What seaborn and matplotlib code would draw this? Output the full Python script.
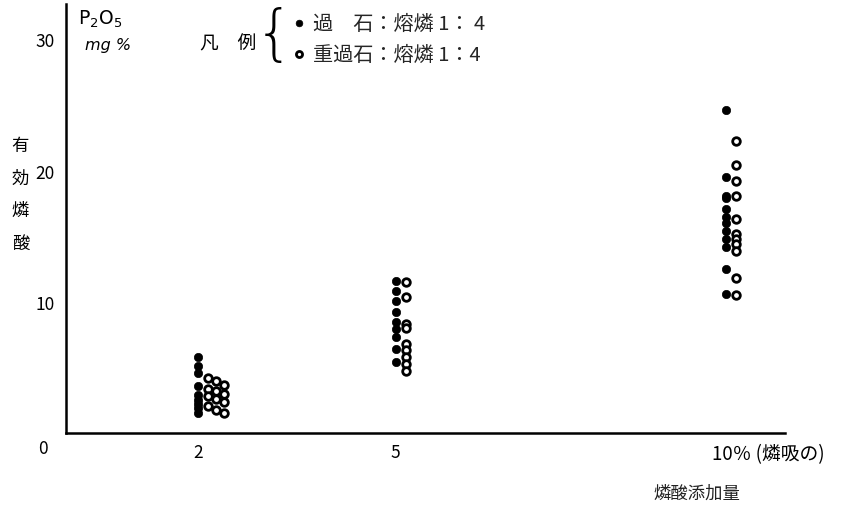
import numpy as np
import pandas as pd
import matplotlib
matplotlib.use("Agg")
import matplotlib.pyplot as plt
import matplotlib.transforms as mtransforms
import seaborn as sns

# ---- data ----
doses = [2, 5, 10]
filled_2 = [5.8, 5.1, 4.6, 3.6, 2.9, 2.5, 2.2, 1.9, 1.5]
open_2 = [4.2, 4.0, 3.7, 3.4, 3.2, 3.0, 2.8, 2.6, 2.4, 2.1, 1.8, 1.5]
filled_5 = [11.6, 10.8, 10.1, 9.2, 8.5, 7.9, 7.3, 6.4, 5.4]
open_5 = [11.5, 10.4, 8.3, 8.0, 6.8, 6.3, 5.8, 5.3, 4.7]
filled_10 = [24.6, 19.5, 18.1, 17.9, 17.1, 16.5, 16.0, 15.4, 14.8, 14.2, 12.5, 10.6]
open_10 = [22.3, 20.4, 19.2, 18.1, 16.3, 15.2, 14.8, 14.4, 13.9, 11.8, 10.5]
series_labels = ["過　石：熔燐 1： 4", "重過石：熔燐 1：4"]
x_ticks = [2, 5, 10]
x_ticklabels = ["2", "5", "10％ (燐吸の)"]
y_ticks = [10, 20, 30]

rows = []
for d, f, o in zip(doses, [filled_2, filled_5, filled_10], [open_2, open_5, open_10]):
    for i, v in enumerate(f):
        rows.append(dict(dose=d, value=v, kind=series_labels[0], idx=i))
    for i, v in enumerate(o):
        rows.append(dict(dose=d, value=v, kind=series_labels[1], idx=i))
df = pd.DataFrame(rows)

# horizontal placement (style only): open circles drawn to the right
base_off = {series_labels[0]: 0.0, series_labels[1]: 0.16}
df["xpos"] = df["dose"] + df["kind"].map(base_off)
mask2 = (df["dose"] == 2) & (df["kind"] == series_labels[1])
df.loc[mask2, "xpos"] += np.where(df.loc[mask2, "idx"] % 3 == 0, 0.0,
                                  np.where(df.loc[mask2, "idx"] % 3 == 1, 0.12, 0.24))

sns.set_theme(style="white")
plt.rcParams["font.family"] = ["Noto Sans CJK JP", "DejaVu Sans"]

fig = plt.figure(figsize=(8.44, 5.06), dpi=100)
ax = fig.add_axes([0.078, 0.142, 0.852, 0.848])

fdf = df[df["kind"] == series_labels[0]]
odf = df[df["kind"] == series_labels[1]]
sns.scatterplot(data=fdf, x="xpos", y="value", ax=ax, marker="o", s=36,
                color="black", edgecolor="black", linewidth=0.5,
                label=series_labels[0])
sns.scatterplot(data=odf, x="xpos", y="value", ax=ax, marker="o", s=30,
                facecolor="white", edgecolor="black", linewidth=2.0,
                label=series_labels[1])

ax.set_xlim(0, 10.9)
ax.set_ylim(0, 32.7)
ax.set_xticks(x_ticks)
ax.set_xticklabels(x_ticklabels)
ax.set_yticks(y_ticks)
ax.set_yticklabels([str(t) for t in y_ticks])
ax.set_xlabel("")
ax.set_ylabel("")

for side in ["top", "right"]:
    ax.spines[side].set_visible(False)
for side in ["left", "bottom"]:
    ax.spines[side].set_color("black")
    ax.spines[side].set_linewidth(1.8)

ax.tick_params(axis="both", direction="in", length=5, width=1.5, colors="black",
               labelsize=12.5, pad=8)
ax.tick_params(axis="x", pad=7)

# last x tick label starts near the tick
lbls = ax.get_xticklabels()
last = lbls[-1]
last.set_horizontalalignment("left")
last.set_fontsize(13.5)
last.set_transform(last.get_transform() +
                   mtransforms.ScaledTranslation(-10 / 72, 0, fig.dpi_scale_trans))

# origin label
ax.text(-0.025, -0.035, "0", transform=ax.transAxes, ha="right", va="center",
        fontsize=12.5, color="black")

# y label (vertical stacked characters)
fig.text(0.024, 0.615, "有\n効\n燐\n酸", ha="center", va="center", fontsize=12.5,
         linespacing=2.05, color="black")

# x label
fig.text(0.826, 0.025, "燐酸添加量", ha="center", va="center", fontsize=12.5,
         color="#222222")

# unit
fig.text(0.092, 0.962, "P$_2$O$_5$", ha="left", va="center", fontsize=13.5,
         family="DejaVu Sans", color="black")
fig.text(0.101, 0.91, "mg %", ha="left", va="center", fontsize=11.5,
         style="italic", family="DejaVu Sans", color="black")

# legend
fig.text(0.237, 0.913, "凡　例", ha="left", va="center", fontsize=13.5, color="black")
fig.text(0.325, 0.928, "{", ha="center", va="center", fontsize=44,
         family="DejaVu Sans", color="black", fontweight="light")
ax.legend(loc="upper left", bbox_to_anchor=(0.343, 0.973), bbox_transform=fig.transFigure,
          frameon=False, fontsize=14.5, handletextpad=0.25, labelspacing=0.5,
          borderaxespad=0, handlelength=0.9, markerscale=0.8, borderpad=0)

fig.savefig("out.png", dpi=100)
